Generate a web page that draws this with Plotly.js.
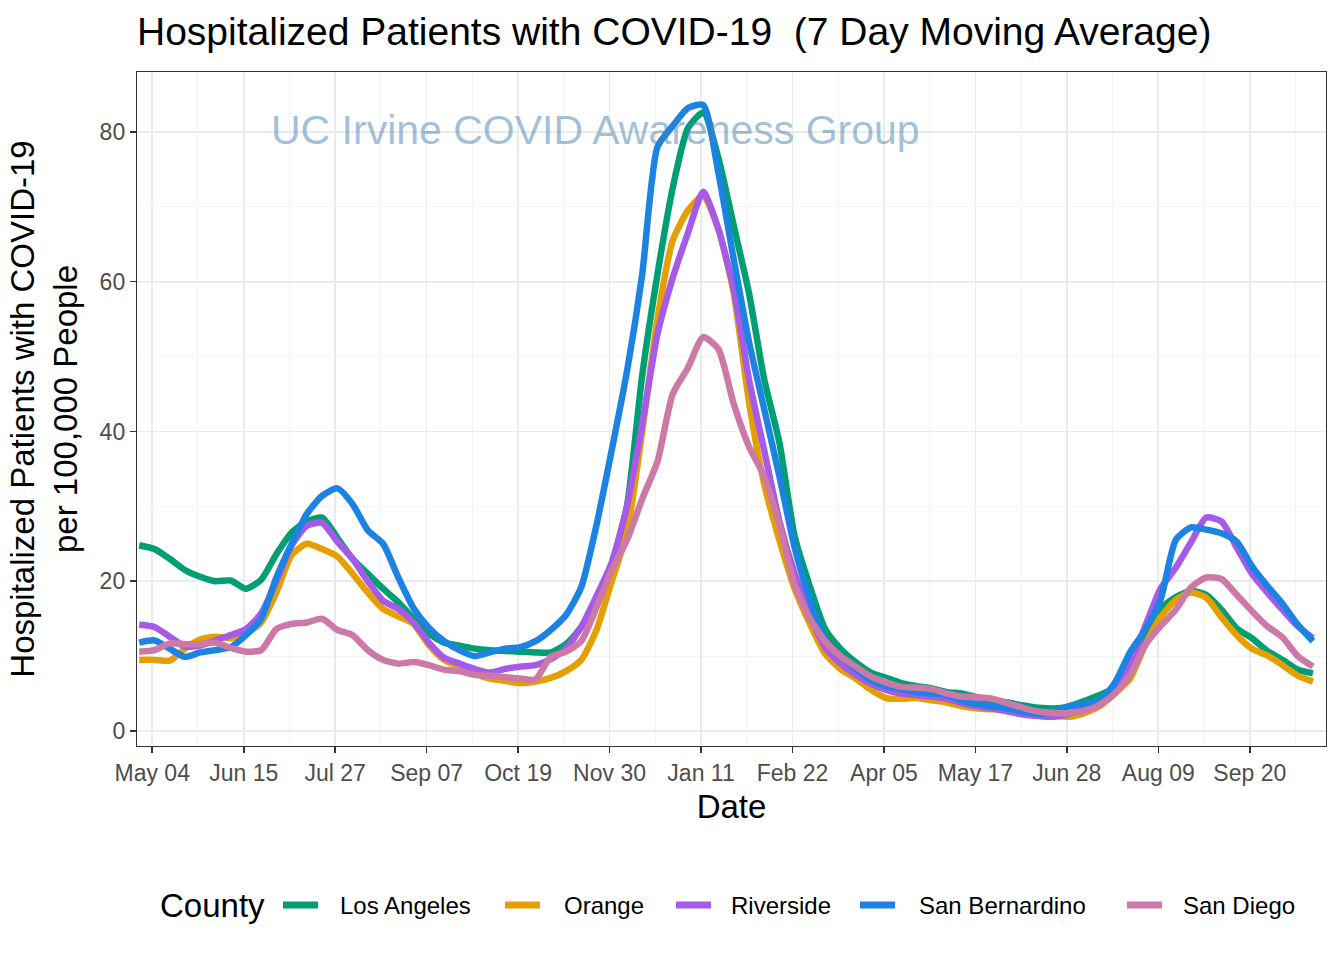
<!DOCTYPE html>
<html>
<head>
<meta charset="utf-8">
<script src="https://cdn.plot.ly/plotly-3.0.1.min.js"></script>
<style>
html,body{margin:0;padding:0;background:#fff;}
#chart{width:1344px;height:960px;}
</style>
</head>
<body>
<div id="chart"></div>
<script>
const dates = [
"2020-04-28","2020-05-05","2020-05-12","2020-05-19","2020-05-26","2020-06-02","2020-06-09","2020-06-16","2020-06-23","2020-06-30",
"2020-07-07","2020-07-14","2020-07-21","2020-07-28","2020-08-04","2020-08-11","2020-08-18","2020-08-25","2020-09-01","2020-09-08",
"2020-09-15","2020-09-22","2020-09-29","2020-10-06","2020-10-13","2020-10-20","2020-10-27","2020-11-03","2020-11-10","2020-11-17",
"2020-11-24","2020-12-01","2020-12-08","2020-12-15","2020-12-22","2020-12-29","2021-01-05","2021-01-12","2021-01-19","2021-01-26",
"2021-02-02","2021-02-09","2021-02-16","2021-02-23","2021-03-02","2021-03-09","2021-03-16","2021-03-23","2021-03-30","2021-04-06",
"2021-04-13","2021-04-20","2021-04-27","2021-05-04","2021-05-11","2021-05-18","2021-05-25","2021-06-01","2021-06-08","2021-06-15",
"2021-06-22","2021-06-29","2021-07-06","2021-07-13","2021-07-20","2021-07-27","2021-08-03","2021-08-10","2021-08-17","2021-08-24",
"2021-08-31","2021-09-07","2021-09-14","2021-09-21","2021-09-28","2021-10-05","2021-10-12","2021-10-19"];

const losAngeles = [
24.8,24.3,23.0,21.5,20.6,20.0,20.1,19.0,20.2,23.6,
26.5,28.0,28.5,25.8,23.0,21.0,19.0,17.2,15.0,13.0,
11.8,11.4,11.0,10.8,10.7,10.6,10.5,10.5,11.6,13.9,
17.1,22.0,30.0,47.5,61.0,72.5,80.5,82.6,76.5,67.5,
58.5,47.0,38.5,26.0,19.3,13.6,11.0,9.2,7.8,7.1,
6.4,6.0,5.7,5.2,5.0,4.5,4.1,3.8,3.4,3.1,
3.0,3.3,4.0,4.8,5.8,8.3,12.5,16.3,17.9,18.7,
18.2,16.2,13.7,12.4,10.7,9.5,8.2,7.7];

const orange = [
9.5,9.5,9.4,11.0,12.2,12.6,12.4,13.0,14.5,18.5,
23.5,25.0,24.3,23.3,21.0,18.5,16.3,15.3,14.3,11.5,
9.5,8.6,7.7,7.0,6.7,6.4,6.6,7.1,8.0,9.5,
13.5,20.0,26.5,40.0,55.0,65.5,69.5,71.5,67.0,58.5,
44.0,33.0,25.5,19.0,14.3,10.3,8.3,7.0,5.5,4.4,
4.3,4.4,4.1,3.8,3.3,3.0,2.9,2.8,2.6,2.4,
2.1,1.9,2.4,3.3,5.0,7.0,11.5,15.2,17.5,18.5,
17.8,15.2,12.8,11.0,10.1,8.8,7.4,6.6];

const riverside = [
14.2,13.9,12.6,11.3,11.4,12.1,12.8,13.6,15.7,20.0,
24.8,27.4,27.8,25.3,23.0,20.0,17.4,16.3,14.5,11.8,
9.8,9.0,8.3,7.8,8.3,8.6,8.8,9.6,11.0,13.9,
18.0,22.5,30.0,41.0,53.0,60.5,66.5,72.0,67.0,59.0,
47.0,37.5,28.0,21.0,15.5,11.2,9.0,7.5,6.3,5.5,
5.0,4.8,4.6,4.3,3.7,3.3,3.0,2.6,2.2,2.0,
1.9,2.3,3.2,4.0,5.9,9.0,14.0,19.0,21.8,25.2,
28.5,28.0,24.5,21.0,18.5,16.2,14.0,12.4];

const sanBernardino = [
11.8,12.1,11.0,9.9,10.5,10.8,11.2,12.8,15.0,20.5,
25.0,29.0,31.4,32.4,30.3,26.8,25.0,20.5,16.4,13.8,
12.0,10.8,10.0,10.5,11.0,11.2,12.0,13.5,15.5,19.2,
27.5,37.5,48.0,61.0,78.0,80.8,83.2,83.6,74.5,63.0,
52.0,43.0,34.0,24.5,17.5,12.3,10.0,8.3,6.8,6.0,
5.6,5.2,5.0,4.8,4.0,3.6,3.3,3.0,2.6,2.3,
2.6,3.3,3.6,4.0,6.4,10.5,13.5,17.5,25.5,27.2,
26.9,26.4,25.3,22.0,19.4,17.0,14.2,12.0];

const sanDiego = [
10.6,10.8,11.7,11.6,11.6,11.8,11.1,10.6,10.8,13.6,
14.3,14.5,15.0,13.5,12.8,10.8,9.5,9.0,9.2,8.8,
8.2,8.0,7.5,7.4,7.2,7.0,6.9,9.9,10.6,12.0,
16.5,21.5,25.5,31.0,36.0,45.0,48.5,52.6,51.0,43.7,
38.0,34.0,27.5,19.5,15.0,12.0,10.0,8.6,7.3,6.5,
5.9,5.8,5.6,5.0,4.6,4.5,4.3,3.7,3.1,2.6,
2.4,2.4,2.7,3.5,5.0,7.5,11.5,14.0,16.2,19.2,
20.5,20.3,18.2,16.0,14.0,12.5,10.0,8.6];

const counties = ["Los Angeles","Orange","Riverside","San Bernardino","San Diego"];
const seriesValues = [losAngeles, orange, riverside, sanBernardino, sanDiego];
const colors = ["#009E73","#E69F00","#A65AE8","#1C83E3","#CC79A7"];
const yTicks = [0,20,40,60,80];

// ---- layout geometry (pixels) ----
const W = 1344, H = 960;
const M = {l:137, r:18, t:72, b:214};
const plotW = W - M.l - M.r, plotH = H - M.t - M.b;
const px2x = p => (p - M.l) / plotW;
const py2y = p => (H - M.b - p) / plotH;
const legendY = 905;
const legendTitleX = 158;
const legendKeyX0 = [283, 505, 676, 860, 1127];
const legendKeyLen = 35;
const legendTextX = [338, 562, 729, 917, 1181];

const DAY = 86400000;
const traces = counties.map((name,i)=>({
  type:'scatter', mode:'lines', name:name, x:dates, y:seriesValues[i],
  line:{color:colors[i], width:6.5, shape:'spline', smoothing:0.6},
  hoverinfo:'skip', showlegend:false
}));

const font = "Liberation Sans, Arial, Helvetica, sans-serif";

const annotations = [{
  text:'UC Irvine COVID Awareness Group', xref:'paper', yref:'paper',
  x:0.386, y:0.914, xanchor:'center', yanchor:'middle', showarrow:false,
  font:{size:41, color:'rgba(70,130,180,0.5)', family:font}
},{
  text:'County', xref:'paper', yref:'paper', x:px2x(legendTitleX), y:py2y(legendY),
  xanchor:'left', yanchor:'middle', showarrow:false,
  font:{size:33, color:'#000', family:font}
}];
const shapes = [];
counties.forEach((name,i)=>{
  annotations.push({
    text:name, xref:'paper', yref:'paper', x:px2x(legendTextX[i]), y:py2y(legendY),
    xanchor:'left', yanchor:'middle', showarrow:false,
    font:{size:24, color:'#000', family:font}
  });
  shapes.push({
    type:'line', xref:'paper', yref:'paper',
    x0:px2x(legendKeyX0[i]), x1:px2x(legendKeyX0[i]+legendKeyLen),
    y0:py2y(legendY), y1:py2y(legendY),
    line:{color:colors[i], width:7}
  });
});

const layout = {
  width:W, height:H,
  margin:M,
  paper_bgcolor:'#fff', plot_bgcolor:'#fff',
  font:{family:font, color:'#000'},
  showlegend:false,
  title:{text:'Hospitalized Patients with COVID-19  (7 Day Moving Average)',
    font:{size:39, color:'#000', family:font},
    x:137/1344, xref:'container', xanchor:'left', y:1-31/960, yref:'container', yanchor:'middle'},
  xaxis:{
    type:'date', range:['2020-04-27','2021-10-25'],
    tick0:'2020-05-04', dtick:42*DAY, tickformat:'%b %d',
    ticks:'outside', ticklen:6, tickwidth:1.6, tickcolor:'#333',
    tickfont:{size:23, color:'#4D4D4D'},
    showgrid:true, gridcolor:'#EBEBEB', gridwidth:1.7,
    minor:{tick0:'2020-05-04', dtick:21*DAY, showgrid:true, gridcolor:'#F3F3F3', gridwidth:0.9, ticks:''},
    showline:true, mirror:true, linecolor:'#333', linewidth:1.2,
    zeroline:false,
    title:{text:'Date', font:{size:33, color:'#000'}, standoff:10},
    automargin:false
  },
  yaxis:{
    range:[-2,88], tickvals:yTicks, ticktext:yTicks.map(String),
    ticks:'outside', ticklen:6, tickwidth:1.6, tickcolor:'#333',
    tickfont:{size:23, color:'#4D4D4D'},
    showgrid:true, gridcolor:'#EBEBEB', gridwidth:1.7,
    minor:{tickvals:[10,30,50,70], showgrid:true, gridcolor:'#F3F3F3', gridwidth:0.9, ticks:''},
    showline:true, mirror:true, linecolor:'#333', linewidth:1.2,
    zeroline:false,
    title:{text:'Hospitalized Patients with COVID-19<br>per 100,000 People', font:{size:33, color:'#000'}, standoff:12},
    automargin:false
  },
  annotations:annotations,
  shapes:shapes
};

Plotly.newPlot('chart', traces, layout, {staticPlot:true, displayModeBar:false});
</script>
</body>
</html>
